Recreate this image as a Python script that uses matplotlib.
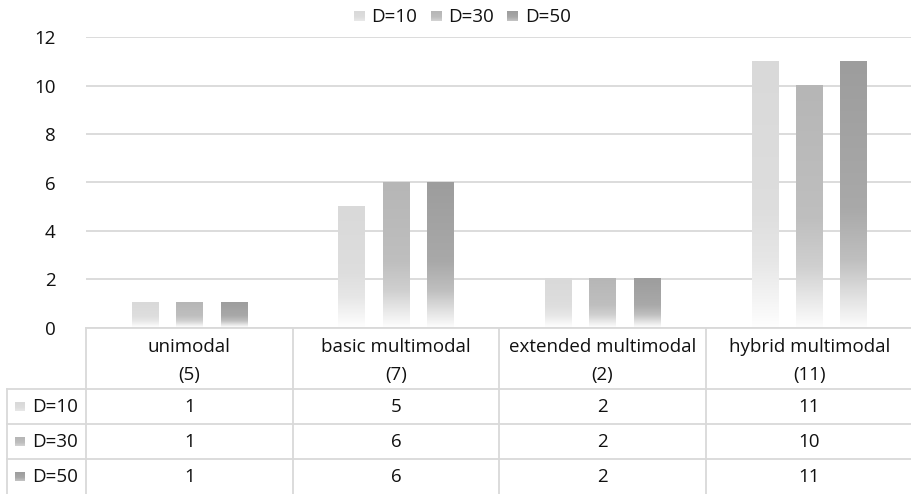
import numpy as np
import matplotlib
matplotlib.use("Agg")
import matplotlib.pyplot as plt
from matplotlib.colors import to_rgb

# ---- data ----
categories = ["unimodal", "basic multimodal", "extended multimodal", "hybrid multimodal"]
counts = ["(5)", "(7)", "(2)", "(11)"]
series_names = ["D=10", "D=30", "D=50"]
d10 = [1, 5, 2, 11]
d30 = [1, 6, 2, 10]
d50 = [1, 6, 2, 11]
yticks = [0, 2, 4, 6, 8, 10, 12]

series_vals = [d10, d30, d50]
colors = ["#d9d9d9", "#b6b6b6", "#9d9d9d"]

plt.rcParams['font.family'] = ['Open Sans', 'DejaVu Sans']
FS = 13.5
TXT = "#111111"
GRID = "#d9d9d9"

W, H = 911, 494
fig = plt.figure(figsize=(W / 100, H / 100), dpi=100)

# main axes geometry in pixels
ax_l, ax_r = 86, 912.5
ax_top, ax_bot = 37.5, 327.5
ax = fig.add_axes([ax_l / W, (H - ax_bot) / H, (ax_r - ax_l) / W, (ax_bot - ax_top) / H])

x = np.arange(len(categories))
bw = 0.128
off = 0.215


def grad_img(c):
    c = np.array(to_rgb(c))
    white = np.ones(3)
    t = np.linspace(0, 1, 256)  # 0 = top, 1 = bottom
    stops_t = [0.0, 0.55, 0.75, 1.0]
    stops_m = [0.0, 0.12, 0.35, 0.97]
    m = np.interp(t, stops_t, stops_m)
    img = c[None, :] * (1 - m[:, None]) + white[None, :] * m[:, None]
    return img[:, None, :]


for i, (vals, col) in enumerate(zip(series_vals, colors)):
    bars = ax.bar(x + (i - 1) * off, vals, width=bw, color="none", edgecolor="none", zorder=3)
    img = grad_img(col)
    for b in bars:
        x0 = b.get_x()
        h = b.get_height()
        ax.imshow(img, extent=(x0, x0 + b.get_width(), 0, h), aspect="auto",
                  zorder=3, interpolation="bilinear")

ax.set_xlim(-0.5, len(categories) - 0.5)
ax.set_ylim(0, 12)
ax.set_yticks(yticks)
ax.set_yticklabels([str(v) for v in yticks], fontsize=FS, color=TXT)
ax.set_xticks([])
ax.tick_params(axis="y", length=0, pad=22)
for s in ["top", "right", "left"]:
    ax.spines[s].set_visible(False)
ax.spines["bottom"].set_color(GRID)
ax.spines["bottom"].set_linewidth(1.3)
ax.yaxis.grid(True, color=GRID, linewidth=1.3, zorder=0)
ax.set_axisbelow(True)

# overlay axes in pixel coordinates for table and legend
ov = fig.add_axes([0, 0, 1, 1])
ov.set_xlim(0, W)
ov.set_ylim(H, 0)
ov.axis("off")
ov.patch.set_alpha(0)

colw = (ax_r - ax_l) / len(categories)
tbl_left = 7
row_lines = [389, 424, 459]
row_centers = [406.5, 441.5, 476.5]

# horizontal table lines
for y in row_lines:
    ov.plot([tbl_left, W + 2], [y, y], color=GRID, lw=1.3)
# vertical table lines
ov.plot([tbl_left, tbl_left], [row_lines[0], H + 2], color=GRID, lw=1.3)
for k in range(len(categories)):
    xv = ax_l + k * colw
    ov.plot([xv, xv], [ax_bot, H + 2], color=GRID, lw=1.3)

# header texts
for k, (name, cnt) in enumerate(zip(categories, counts)):
    cx = ax_l + (k + 0.5) * colw
    ov.text(cx, 346.5, name, ha="center", va="center", fontsize=FS, color=TXT)
    ov.text(cx, 374.5, cnt, ha="center", va="center", fontsize=FS, color=TXT)


def grad_img_small(c):
    c = np.array(to_rgb(c))
    t = np.linspace(0, 1, 32)
    m = np.interp(t, [0, 0.6, 1.0], [0.0, 0.1, 0.4])
    img = c[None, :] * (1 - m[:, None]) + m[:, None]
    return img[:, None, :]


def grad_square(xc, yc, col, size_w=10, size_h=10):
    ov.imshow(grad_img_small(col), extent=(xc - size_w / 2, xc + size_w / 2,
                                            yc + size_h / 2, yc - size_h / 2),
              aspect="auto", zorder=3, interpolation="bilinear")


# table rows
for r, (name, vals, col) in enumerate(zip(series_names, series_vals, colors)):
    yc = row_centers[r]
    grad_square(20, yc, col, 10, 9)
    ov.text(32, yc, name, ha="left", va="center", fontsize=FS, color=TXT)
    for k, v in enumerate(vals):
        cx = ax_l + (k + 0.5) * colw
        ov.text(cx, yc, str(v), ha="center", va="center", fontsize=FS, color=TXT)

# legend at top
leg_marker_x = [359, 436, 512.5]
for name, col, mx in zip(series_names, colors, leg_marker_x):
    grad_square(mx, 16.5, col, 11, 10)
    ov.text(mx + 12.5, 16.5, name, ha="left", va="center", fontsize=FS, color=TXT)

ov.set_xlim(0, W)
ov.set_ylim(H, 0)

fig.savefig("out.png", dpi=100, facecolor="white")
